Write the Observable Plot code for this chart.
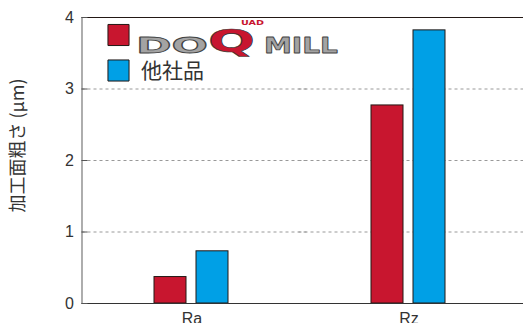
<!DOCTYPE html>
<html>
<head>
<meta charset="utf-8">
<script src="https://cdn.jsdelivr.net/npm/d3@7"></script>
<script src="https://cdn.jsdelivr.net/npm/@observablehq/plot@0.6"></script>
<style>
  html, body { margin: 0; padding: 0; background: #fff; }
  #chart svg { display: block; }
</style>
</head>
<body>
<div id="chart"></div>
<script>
const categories = ["Ra", "Rz"];
const series = ["QUAD DOQMILL", "他社品"];
const doqmillValues = [0.37, 2.77];
const othersValues = [0.73, 3.82];
const yTicks = [0, 1, 2, 3, 4];
const gridValues = [1, 2, 3];
const yLabel = "加工面粗さ (μm)";
const colors = ["#c8162f", "#00a0e6"];

const data = [];
categories.forEach((c, i) => {
  data.push({cat: c, series: series[0], value: doqmillValues[i]});
  data.push({cat: c, series: series[1], value: othersValues[i]});
});
const legendAnchor = [{cat: categories[0]}];

const font = "'Liberation Sans', 'Noto Sans CJK JP', sans-serif";
const jp = "'Noto Sans CJK JP', 'Liberation Sans', sans-serif";
const logoFont = "'DejaVu Sans', 'Liberation Sans', sans-serif";

const chart = Plot.plot({
  width: 523,
  height: 323,
  marginLeft: 81,
  marginRight: 0,
  marginTop: 17,
  marginBottom: 20,
  style: {fontFamily: font, fontSize: "16px", color: "#333", background: "#fff"},
  fx: {domain: categories, paddingInner: 0, paddingOuter: 0.0184, align: 0.19, label: null},
  x: {domain: series, paddingInner: 0.238, paddingOuter: 1.702, axis: null},
  y: {domain: [0, 4], label: null},
  color: {domain: series, range: colors},
  marks: [
    Plot.gridY(gridValues, {stroke: "#999", strokeOpacity: 1, strokeDasharray: "3,3", insetLeft: -1.5, insetRight: -6.5}),
    Plot.ruleY([4], {stroke: "#231815", strokeWidth: 1.2, insetLeft: -1.5, insetRight: -6.5}),
    Plot.barY(data, {fx: "cat", x: "series", y: "value", fill: "series", stroke: "#231815", strokeWidth: 1}),
    Plot.ruleY([0], {stroke: "#333", strokeWidth: 1.2, insetLeft: -1.5, insetRight: -6.5}),
    Plot.frame({anchor: "left", facetAnchor: "left", stroke: "#777", strokeWidth: 1.2, dx: -1.5}),
    Plot.axisY({ticks: yTicks, tickFormat: d3.format("d"), tickSize: -6, tickPadding: 14, stroke: "#555", fill: "#333", fontSize: 16, label: null, dx: -1.5}),
    Plot.axisFx({anchor: "bottom", tickSize: 0, tickPadding: 9, fontSize: 16, fill: "#333", label: null}),
    Plot.text(legendAnchor, {fx: "cat", text: () => yLabel, frameAnchor: "left", rotate: -90, dx: -65.5, dy: -15, textAnchor: "middle", fontSize: 18, fontFamily: jp, fill: "#333"}),
    // legend
    Plot.dot(legendAnchor, {fx: "cat", frameAnchor: "top-left", dx: 35, dy: 17.5, symbol: "square", r: 11.9, fill: colors[0], stroke: "#231815", strokeWidth: 1}),
    Plot.dot(legendAnchor, {fx: "cat", frameAnchor: "top-left", dx: 35, dy: 53, symbol: "square", r: 11.9, fill: colors[1], stroke: "#231815", strokeWidth: 1}),
    Plot.text(legendAnchor, {fx: "cat", text: () => series[1], frameAnchor: "top-left", dx: 57.5, dy: 53.5, textAnchor: "start", lineAnchor: "middle", fontSize: 21, fontFamily: jp, fill: "#333"}),
    Plot.text(legendAnchor, {fx: "cat", text: () => "DO", frameAnchor: "top-left", dx: 52.5, dy: 28, textAnchor: "start", lineAnchor: "middle", fontSize: 22, fontFamily: logoFont, fontWeight: "bold", fill: "#a3a3a3", stroke: "#444", strokeWidth: 0.8, paintOrder: "normal"}),
    Plot.text(legendAnchor, {fx: "cat", text: () => "Q", frameAnchor: "top-left", dx: 124.5, dy: 24, textAnchor: "start", lineAnchor: "middle", fontSize: 32, fontFamily: logoFont, fontWeight: "bold", fill: colors[0], stroke: "#333", strokeWidth: 0.6, paintOrder: "normal"}),
    Plot.text(legendAnchor, {fx: "cat", text: () => "MILL", frameAnchor: "top-left", dx: 180.5, dy: 28, textAnchor: "start", lineAnchor: "middle", fontSize: 22, fontFamily: logoFont, fontWeight: "bold", fill: "#a3a3a3", stroke: "#444", strokeWidth: 0.8, paintOrder: "normal"}),
    Plot.text(legendAnchor, {fx: "cat", text: () => "UAD", frameAnchor: "top-left", dx: 157.5, dy: 5.5, textAnchor: "start", lineAnchor: "middle", fontSize: 7, fontFamily: logoFont, fontWeight: "bold", fill: colors[0]})
  ]
});
document.getElementById("chart").appendChild(chart);

// stretch the logo letters horizontally to the logo's extended proportions
const stretch = {"DO": 72, "Q": 47, "MILL": 74, "UAD": 23};
d3.select(chart).selectAll("text").each(function() {
  const t = this.textContent;
  if (stretch[t] !== undefined && this.childElementCount === 0) {
    const w = this.getComputedTextLength();
    if (w > 0) {
      const k = stretch[t] / w;
      const tr = this.getAttribute("transform") || "";
      this.setAttribute("transform", tr + ` scale(${k},1)`);
      const sw = parseFloat(this.getAttribute("stroke-width"));
      if (sw) this.setAttribute("stroke-width", sw / Math.sqrt(k));
    }
  }
});
</script>
</body>
</html>
